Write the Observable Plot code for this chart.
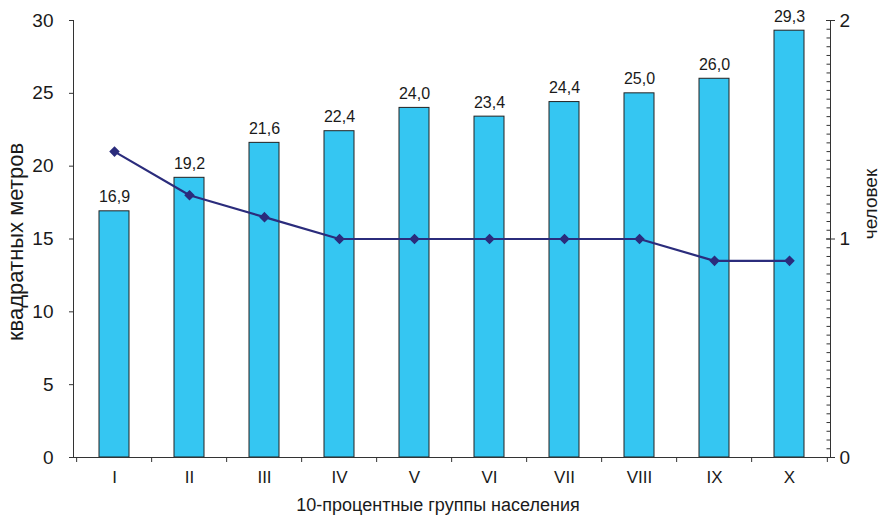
<!DOCTYPE html>
<html><head><meta charset="utf-8">
<script src="https://cdn.jsdelivr.net/npm/d3@7"></script>
<script src="https://cdn.jsdelivr.net/npm/@observablehq/plot@0.6"></script>
<style>body{margin:0;background:#fff}</style>
</head><body><div id="chart"></div>
<script>
const groups = ["I","II","III","IV","V","VI","VII","VIII","IX","X"];
const area = [16.9,19.2,21.6,22.4,24.0,23.4,24.4,25.0,26.0,29.3];
const persons = [1.4,1.2,1.1,1.0,1.0,1.0,1.0,1.0,0.9,0.9];
const leftTicks = [0,5,10,15,20,25,30];
const rightTicks = [0,1,2];
const leftMax = 30, rightMax = 2;
const yLabel = "квадратных метров";
const y2Label = "человек";
const xLabel = "10-процентные группы населения";

const k = leftMax / rightMax;
const fmt = v => v.toFixed(1).replace(".", ",");
const barData = groups.map((g, i) => ({g, v: area[i]}));
const lineData = groups.map((g, i) => ({g, p: persons[i]}));
const minorRight = d3.range(0, rightMax + 1e-9, 0.04).map(d => d * k);

const W = 883, H = 517, ml = 73, mr = 53, mt = 20, mb = 60;
const pw = W - ml - mr, step = pw / groups.length;
const ink = "#1a1a1a", navy = "#2B2C7C";

const chart = Plot.plot({
  width: W, height: H, marginLeft: ml, marginRight: mr, marginTop: mt, marginBottom: mb,
  style: {fontFamily: "'Liberation Sans', Arial, sans-serif", color: ink, background: "#fff", overflow: "visible"},
  x: {domain: groups, paddingInner: 0.6, paddingOuter: 0.3},
  y: {domain: [0, leftMax]},
  marks: [
    Plot.barY(barData, {x: "g", y: "v", fill: "#35C6F2", stroke: "#222", strokeWidth: 1}),
    Plot.text(barData, {x: "g", y: "v", text: d => fmt(d.v), dy: -14, fontSize: 16, fill: ink}),
    // axis lines
    Plot.frame({anchor: "left", stroke: "#333"}),
    Plot.frame({anchor: "right", stroke: "#333"}),
    Plot.ruleY([0], {stroke: "#333"}),
    // left axis
    Plot.axisY({ticks: leftTicks, tickSize: 4, tickPadding: 16, fontSize: 19, label: null, stroke: "#333"}),
    // right axis
    Plot.axisY({anchor: "right", ticks: rightTicks.map(d => d * k), tickFormat: d => String(d / k), tickSize: 4, tickPadding: 5, fontSize: 19, label: null, stroke: "#333"}),
    Plot.ruleY(minorRight, {insetLeft: pw - 3.5, stroke: "#333"}),
    Plot.ruleY(rightTicks.map(d => d * k), {insetLeft: pw - 4, stroke: "#333"}),
    // x axis
    Plot.axisX({tickSize: 0, tickPadding: 13, fontSize: 17, label: null}),
    Plot.axisX({ticks: groups, tickSize: 5, text: null, dx: -step / 2, label: null, stroke: "#333"}),
    Plot.axisX({ticks: ["X"], tickSize: 5, text: null, dx: step / 2, label: null, stroke: "#333"}),
    // line
    Plot.line(lineData, {x: "g", y: d => d.p * k, stroke: navy, strokeWidth: 2.2}),
    Plot.dot(lineData, {x: "g", y: d => d.p * k, symbol: "diamond2", fill: navy, stroke: navy, r: 3.8}),
    // titles
    Plot.text([yLabel], {frameAnchor: "left", textAnchor: "middle", dx: -58, dy: 3, rotate: -90, fontSize: 22, fill: ink}),
    Plot.text([y2Label], {frameAnchor: "right", textAnchor: "middle", dx: 40, dy: -35, rotate: -90, fontSize: 19, fill: ink}),
    Plot.text([xLabel], {frameAnchor: "bottom", dy: 53, dx: -14, fontSize: 18, fill: ink})
  ]
});
document.getElementById("chart").append(chart);
</script>
</body></html>
